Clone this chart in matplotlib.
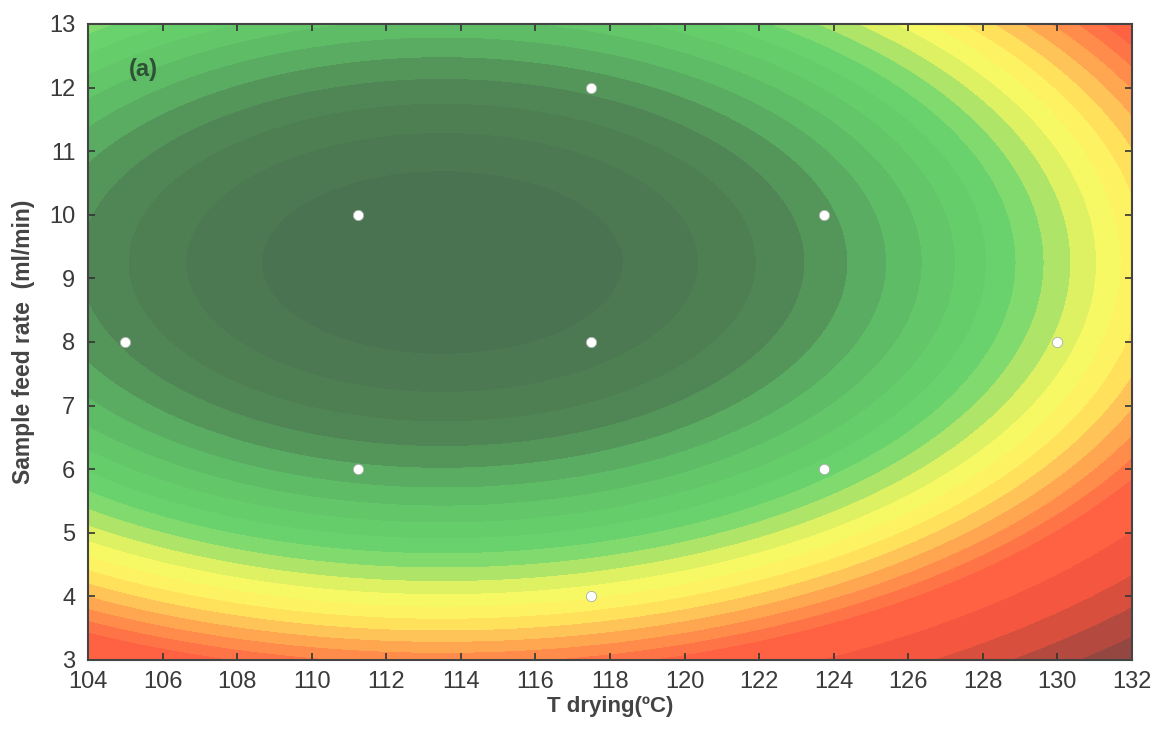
import numpy as np
import matplotlib.pyplot as plt
from matplotlib.colors import ListedColormap, BoundaryNorm

plt.rcParams['font.family'] = ['Liberation Sans', 'DejaVu Sans']

# === design points (T drying, feed rate) ===
t_points = [105, 111.25, 111.25, 117.5, 117.5, 117.5, 123.75, 123.75, 130]
f_points = [8, 6, 10, 4, 8, 12, 6, 10, 8]

# === response surface, estimated from the ring positions ===
t_opt = 113.5      # centre of the ellipses
f_opt = 9.25
t_scale = 4.87     # one level step along T at the first ring
f_scale = 1.45     # same along feed rate

levels = [0, 1, 2, 3, 4, 5, 6, 7, 8, 9, 10, 11, 12, 13, 14, 15, 16, 17, 18,
          19, 20, 23, 26, 28.5, 31, 40]
band_colors = ['#4a7451', '#4c7952', '#4e7f53', '#508655', '#54965a',
               '#5aac62', '#5fbc66', '#63c669', '#66cd6b', '#69d26c',
               '#80da6e', '#aee467', '#ddf162', '#f6f963', '#fcf262',
               '#ffe15c', '#ffc457', '#ffa651', '#ff8c4b', '#ff7446',
               '#ff6243', '#f4563f', '#d94f3d', '#b44a3f', '#944741']

x_ticks = list(range(104, 133, 2))
y_ticks = list(range(3, 14))

# === grid ===
tt, ff = np.meshgrid(np.linspace(104, 132, 561), np.linspace(3, 13, 401))
zz = ((tt - t_opt) / t_scale) ** 2 + ((ff - f_opt) / f_scale) ** 2

cmap = ListedColormap(band_colors)
norm = BoundaryNorm(levels, cmap.N)

fig = plt.figure(figsize=(11.57, 7.45), dpi=100)
ax = fig.add_axes([88 / 1157, 85 / 745, 1044 / 1157, 636 / 745])

cs = ax.contourf(tt, ff, zz, levels=levels, cmap=cmap, norm=norm)
cs.set_edgecolor('face')
cs.set_linewidth(0.6)

ax.scatter(t_points, f_points, s=55, color='white', edgecolors='#a8b0a8',
           linewidths=0.6, zorder=3)

ax.text(105.1, 12.28, '(a)', fontsize=17, fontweight='bold',
        color='#2d5236', va='center')

ax.set_xlim(104, 132)
ax.set_ylim(3, 13)
ax.set_xticks(x_ticks)
ax.set_yticks(y_ticks)
ax.tick_params(direction='in', length=5, width=1.2, top=True, right=True,
               labelsize=17, labelcolor='#3a3a3a', color='#333333')
ax.tick_params(axis='x', pad=8)
ax.tick_params(axis='y', pad=9)
for sp in ax.spines.values():
    sp.set_color('#444444')
    sp.set_linewidth(1.5)

ax.set_xlabel('T drying(ºC)', fontsize=16, fontweight='bold',
              color='#444444', labelpad=2)
ax.set_ylabel('Sample feed rate  (ml/min)', fontsize=16.5, fontweight='bold',
              color='#444444', labelpad=10)

fig.savefig('out.png', dpi=100)
